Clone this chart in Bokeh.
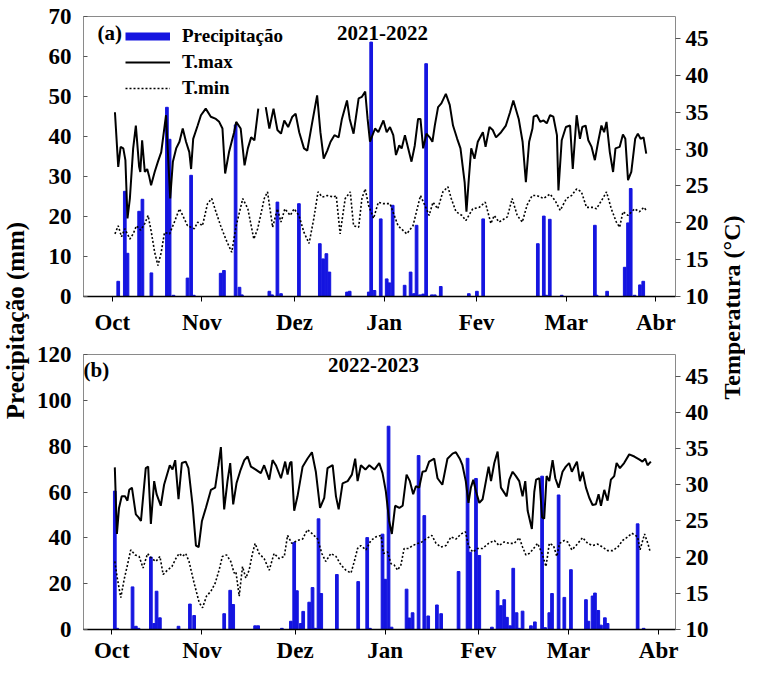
import math
from bokeh.plotting import figure
from bokeh.models import Range1d, LinearAxis, FixedTicker, Label, Legend, LegendItem
from bokeh.layouts import row, column
from bokeh.embed import file_html
from bokeh.resources import INLINE

FONT = "Liberation Serif"
BLUE = "#1515e0"
NAN = float("nan")

MONTHS = ["Oct", "Nov", "Dez", "Jan", "Fev", "Mar", "Abr"]
MONTH_TICKS = [0, 30, 61, 91, 122, 152, 182]

# ---------------- (a) 2021-2022 ----------------
A_TMAX_DAY = [0.9, 2.0, 2.8, 3.7, 4.4, 5.1, 5.9, 7.0, 7.9, 9.0, 9.4, 10.0, 10.9, 11.7, 12.3, 13.0, 14.2, 15.3, 16.4, 18.0,
              19.4, 20.3, 21.4, 22.5, 23.6, 24.7, 25.8, 26.4, 27.1, 28.6, 29.7, 31.3, 33.0, 34.7, 35.8, 36.9, 37.8, 39.1,
              40.8, 41.5, 43.0, 44.3, 45.4, 46.5, 47.6, 48.9, 50.0, 51.4, 52.6, 54.0, 55.3, 56.5, 57.6, 58.9, 60.3, 61.4,
              62.6, 64.2, 65.3, 66.9, 68.6, 69.7, 70.8, 72.0, 73.1, 74.4, 75.8, 76.9, 78.6, 79.5, 80.8, 82.5, 83.6, 84.7,
              85.5, 86.3, 88.0, 89.1, 90.8, 91.9, 93.0, 94.1, 95.0, 96.1, 96.9, 98.0, 99.1, 100.2, 101.3, 102.4, 103.2,
              104.1, 105.2, 106.3, 107.2, 108.0, 109.1, 110.2, 111.7, 113.0, 114.1, 115.5, 116.6, 118.0, 118.6, 119.4,
              120.2, 121.3, 122.4, 124.1, 125.0, 126.3, 127.4, 128.5, 130.2, 131.8, 133.2, 134.3, 136.1, 137.4, 138.5,
              139.6, 140.7, 141.1, 142.2, 143.3, 144.4, 145.5, 146.6, 147.7, 148.9, 149.4, 150.5, 151.9, 153.3, 154.2,
              155.5, 156.6, 157.4, 158.5, 159.4, 160.5, 161.6, 162.7, 163.8, 164.7, 165.5, 166.6, 167.7, 168.5, 169.9,
              171.0, 171.8, 172.7, 173.8, 175.1, 176.0, 176.9, 177.9, 178.8]
A_TMAX = [35.0, 27.6, 30.3, 30.1, 28.5, 20.6, 23.3, 30.1, 33.2, 27.6, 26.9, 31.2, 26.9, 27.3, 26.4, 25.1, 26.9, 28.3, 29.6, 34.6,
          23.3, 28.3, 30.1, 31.0, 32.8, 31.0, 29.6, 27.3, 31.4, 33.2, 34.6, 35.5, 34.4, 34.1, 33.7, 32.8, 26.7, 29.6,
          32.3, 33.7, 32.8, 27.8, 30.1, 31.6, 31.2, 35.5, NAN, 35.7, 32.8, 35.5, 32.6, 32.1, 33.9, 33.0, 34.4, 34.8,
          32.3, 30.1, 29.8, 33.5, 37.3, 32.3, 28.7, 29.8, 31.0, 31.9, 31.6, 34.1, 36.6, 34.1, 32.1, 36.9, 37.1, 37.8,
          34.1, 31.0, 32.8, 32.3, 33.9, 32.3, 33.0, 31.9, 29.2, 30.5, 30.1, 31.9, 30.1, 28.3, 30.5, 34.1, 34.1,
          30.1, 32.1, 31.6, 31.0, 33.2, 35.7, 36.2, 37.5, 36.0, 33.2, 31.4, 30.1, 25.5, 21.5, 26.0,
          30.1, 28.7, 31.0, 32.3, 30.3, 33.0, 32.6, 31.6, 32.3, 33.2, 35.0, 36.6, 34.1, 31.0, 25.5,
          31.0, 32.8, 34.4, 34.6, 33.7, 33.9, 33.5, 34.6, 34.4, 31.9, 24.4, 31.2, 33.0, 33.2, 27.3,
          34.6, 31.4, 33.0, 33.2, 31.2, 30.3, 28.5, 31.0, 33.2, 32.3, 33.7, 29.6, 26.9, 30.1, 30.3,
          32.0, 31.4, 25.8, 26.9, 31.4, 32.1, 31.4, 31.6, 29.4]

A_TMIN_DAY = [0.9, 2.0, 3.1, 4.2, 5.9, 7.0, 8.1, 9.5, 10.9, 12.0, 13.1, 14.2, 15.3, 16.4, 17.5, 19.2, 20.8, 22.5, 23.6, 25.2,
              27.5, 28.6, 30.2, 31.9, 33.3, 34.7, 36.3, 38.0, 40.0, 41.5, 43.7, 45.4, 47.4, 48.7, 50.9, 52.0, 53.7, 55.3,
              56.5, 57.8, 59.6, 60.9, 62.5, 64.2, 65.9, 67.5, 68.9, 70.3, 72.0, 74.2, 75.0, 76.3, 78.0, 79.7, 80.8, 82.5,
              83.6, 84.7, 85.8, 87.5, 89.1, 90.8, 93.0, 95.7, 98.6, 100.7, 103.2, 105.2, 106.1, 107.4, 109.0, 110.7,
              112.4, 113.5, 115.1, 117.1, 118.4, 120.7, 122.9, 124.9, 126.8, 127.9, 129.5, 132.3, 133.9, 135.6, 137.3,
              138.9, 140.6, 142.2, 144.4, 146.6, 148.3, 150.0, 152.1, 153.8, 155.5, 157.1, 158.8, 161.0, 162.1, 163.8,
              165.5, 167.1, 168.8, 169.9, 171.0, 172.7, 174.9, 176.5, 178.0, 178.8]
A_TMIN = [18.5, 19.6, 18.1, 19.2, 17.8, 18.5, 19.6, 19.0, 19.9, 21.0, 18.7, 16.0, 14.2, 16.0, 18.7, 18.5, 20.1, 21.9, 21.0, 19.6,
          19.2, 20.1, 19.6, 22.6, 23.3, 21.5, 19.6, 17.8, 16.0, 19.6, 23.3, 21.9, 17.8, 19.2, 23.3, 24.2, 19.4, 21.9,
          20.1, 21.9, 21.0, 21.9, 21.0, 18.7, 17.2, 20.6, 24.2, 23.5, 23.7, 23.5, 23.7, 18.5, 23.3, 24.2, 19.6, 19.4,
          23.3, 24.6, 22.4, 20.6, 22.8, 22.6, 22.6, 19.6, 18.5, 19.6, 23.7, 21.9, 21.0, 22.8, 21.9, 24.2,
          24.9, 23.3, 21.5, 21.0, 20.3, 21.9, 22.1, 22.8, 19.9, 21.0, 20.1, 20.8, 23.3, 21.0, 20.1,
          22.4, 23.7, 23.7, 23.3, 23.9, 23.0, 21.7, 23.3, 23.7, 24.6, 24.2, 22.1, 22.1, 21.9, 23.0,
          24.2, 21.9, 20.1, 19.4, 21.5, 21.0, 21.9, 21.5, 22.1, 21.7]

A_RAIN_DAY = [2.0, 4.2, 5.1, 9.0, 10.1, 13.1, 18.3, 19.2, 20.5, 25.2, 26.4, 27.3, 36.3, 37.4, 41.3, 42.6, 43.4, 52.6, 53.5,
              55.3, 56.5, 62.5, 69.5, 70.6, 71.7, 72.7, 78.6, 79.5, 85.9, 86.7, 87.8, 89.9, 91.9, 92.8, 93.9, 97.9,
              99.9, 101.0, 101.9, 103.0, 104.1, 105.1, 107.0, 108.0, 110.0, 119.4, 122.1, 124.2, 142.5, 144.5, 145.3,
              146.5, 150.5, 161.6, 162.2, 165.7, 171.6, 172.7, 173.6, 174.9, 176.7, 177.8]
A_RAIN = [3.8, 26.3, 10.8, 21.3, 24.3, 5.9, 47.3, 39.3, 0.3, 4.6, 30.3, 0.3, 5.8, 6.5, 42.9, 2.3, 0.4, 1.3, 0.4,
          23.6, 0.7, 23.2, 13.2, 9.4, 10.7, 6.1, 1.1, 1.3, 1.1, 63.6, 1.5, 19.4, 4.4, 3.4, 22.8, 2.8,
          6.1, 0.7, 17.8, 0.4, 0.6, 58.2, 0.4, 0.4, 2.5, 0.7, 1.3, 19.4, 13.2, 20.1, 0.3,
          19.3, 0.3, 17.8, 0.3, 1.3, 7.3, 18.4, 27.0, 0.3, 2.9, 3.8]

# ---------------- (b) 2022-2023 ----------------
B_TMAX_DAY = [1.0, 1.7, 2.4, 3.3, 4.4, 5.2, 5.8, 6.7, 8.0, 8.9, 9.7, 11.3, 12.1, 13.0, 14.1, 14.9, 16.3, 17.4, 19.3, 20.2,
              21.1, 22.2, 23.3, 24.6, 25.5, 26.9, 28.0, 28.9, 30.0, 31.3, 33.0, 34.4, 35.5, 36.3, 37.4, 38.5, 39.4,
              40.4, 41.5, 42.9, 44.1, 45.2, 46.3, 47.9, 49.6, 50.7, 52.4, 53.5, 54.6, 56.3, 57.7, 58.5, 59.3, 59.8,
              60.7, 61.8, 63.5, 65.1, 66.6, 67.9, 69.3, 70.7, 71.8, 73.5, 74.6, 75.5, 76.8, 78.5, 79.9, 81.0, 81.8,
              82.9, 84.4, 85.7, 87.4, 89.0, 90.1, 91.2, 92.3, 93.2, 94.3, 95.7, 96.8, 98.1, 99.2, 100.3, 101.2, 102.3,
              103.4, 104.5, 105.6, 107.3, 108.4, 110.0, 111.7, 113.4, 114.5, 115.8, 116.7, 117.8, 118.7, 119.5,
              120.3, 121.2, 122.3, 123.4, 125.4, 126.2, 127.3, 128.4, 129.5, 131.4, 132.3, 133.4, 134.5, 135.6,
              136.7, 137.6, 138.4, 139.8, 140.6, 141.2, 142.3, 143.2, 143.9, 144.7, 145.6, 146.7, 147.6, 148.7,
              150.0, 151.1, 152.2, 153.1, 154.8, 155.8, 156.7, 157.8, 158.9, 160.0, 161.1, 162.0, 162.8, 163.9,
              165.0, 166.1, 167.2, 168.0, 169.1, 170.5, 172.2, 173.9, 175.5, 176.6, 177.5, 178.3, 179.4]
B_TMAX = [32.4, 23.2, 26.8, 28.4, 28.4, 27.8, 29.3, 29.6, 25.9, 25.5, 25.0, 32.3, 32.5, 24.6, 30.5, 28.7, 27.1, 30.0, 32.7, 32.1,
          33.4, 28.0, 33.0, 33.2, 32.3, 27.1, 21.6, 21.4, 25.0, 26.8, 29.3, 29.6, 32.7, 35.2, 26.6, 30.5, 33.0,
          27.3, 30.2, 32.1, 33.4, 33.9, 32.5, 32.1, 31.6, 32.7, 30.7, 33.4, 32.7, 30.9, 33.2, 31.4, 33.0, 33.2,
          26.4, 28.4, 32.5, 33.6, 34.5, 31.8, 26.8, 28.2, 32.3, 32.7, 28.4, 26.6, 30.2, 30.5, 31.4, 33.6, 30.5,
          32.7, 32.1, 32.7, 32.1, 33.0, 31.6, 29.1, 25.0, 23.2, 27.1, 26.8, 27.1, 31.4, 30.5, 28.7, 29.8, 29.6,
          31.8, 31.9, 33.2, 33.6, 30.9, 30.0, 33.6, 34.3, 34.5, 33.6, 32.7, 30.5, 27.5, 29.6,
          30.7, 29.1, 27.5, 28.0, 32.5, 30.5, 33.0, 34.6, 29.6, 28.4, 30.7, 31.8, 31.2, 30.5,
          28.4, 30.5, 26.4, 23.9, 29.0, 30.7, 30.9, 25.5, 25.3, 31.2, 30.5, 33.4, 30.9, 29.6,
          31.8, 32.5, 33.0, 31.8, 33.2, 30.5, 31.8, 29.6, 28.2, 27.2, 27.3, 28.7, 27.1, 29.3,
          27.8, 30.7, 31.2, 33.0, 32.3, 33.0, 34.2, 33.9, 33.5, 33.2, 33.6, 32.7, 33.2]

B_TMIN_DAY = [1.0, 1.9, 3.0, 4.1, 5.2, 6.3, 7.8, 9.1, 10.4, 11.9, 13.3, 14.7, 16.0, 17.1, 18.5, 20.0, 21.3, 22.4, 23.5, 24.6,
              25.7, 27.4, 29.1, 30.2, 31.5, 33.0, 34.4, 35.7, 36.8, 38.2, 39.6, 40.7, 41.3, 42.4, 43.5, 44.6, 45.7,
              46.8, 47.7, 49.0, 50.7, 52.4, 54.0, 55.7, 57.4, 58.5, 59.9, 61.8, 63.5, 65.1, 66.8, 68.5, 69.9, 71.2,
              72.9, 74.6, 76.3, 77.9, 79.6, 80.7, 81.8, 82.9, 84.6, 86.2, 87.9, 89.6, 90.4, 91.8, 92.9, 94.0, 95.1,
              96.2, 97.3, 98.8, 100.1, 101.8, 103.2, 104.5, 106.5, 107.9, 109.5, 111.2, 112.9, 114.6, 116.2, 117.7,
              118.7, 120.1, 121.7, 123.4, 125.4, 127.3, 128.9, 130.6, 132.3, 133.9, 135.6, 136.7, 137.8, 138.9,
              140.0, 141.7, 143.2, 144.5, 145.6, 147.0, 148.1, 149.0, 150.6, 151.7, 153.1, 154.5, 156.7, 158.4,
              160.0, 161.7, 163.3, 165.0, 166.7, 168.4, 170.0, 171.7, 173.1, 175.0, 175.8, 177.3, 178.4, 179.2]
B_TMIN = [19.4, 16.9, 14.4, 16.9, 18.9, 21.0, 20.3, 20.1, 18.5, 20.5, 19.8, 19.4, 20.1, 17.6, 18.2, 18.7, 19.8, 20.5, 20.1, 20.5,
          19.4, 16.4, 13.7, 13.0, 14.6, 15.3, 16.4, 18.2, 20.1, 20.3, 19.4, 17.8, 18.0, 14.6, 18.7, 17.1, 18.2,
          20.5, 21.9, 20.5, 19.8, 18.2, 20.5, 19.8, 20.1, 23.0, 21.9, 22.3, 22.5, 23.8, 23.2, 22.5, 20.5, 19.4,
          20.5, 20.1, 18.9, 18.2, 17.8, 19.4, 21.2, 21.6, 21.0, 22.3, 22.8, 23.0, 20.5, 20.7, 19.1, 18.9, 18.2,
          18.9, 21.2, 21.2, 21.6, 21.9, 22.1, 22.5, 23.0, 21.9, 21.4, 21.6, 22.8, 22.5, 23.2, 23.5,
          21.6, 20.7, 21.2, 21.2, 21.9, 22.3, 21.6, 22.1, 21.9, 21.9, 22.7, 21.4, 20.3, 20.5,
          21.0, 21.9, 20.5, 18.7, 21.9, 21.6, 20.1, 21.9, 22.3, 22.1, 21.0, 21.6, 22.7, 21.9,
          21.6, 21.8, 21.4, 20.9, 20.9, 21.4, 22.3, 22.8, 23.3, 22.8, 21.0, 23.2, 21.9, 20.7]

B_RAIN_DAY = [1.0, 1.8, 6.9, 8.0, 8.9, 13.0, 14.1, 14.9, 16.0, 22.2, 26.0, 27.4, 37.4, 39.4, 40.4, 47.7, 48.7, 56.6, 59.6,
              60.7, 61.6, 62.9, 63.7, 65.7, 66.8, 67.7, 68.8, 69.7, 74.9, 82.0, 85.0, 85.9, 90.1, 91.0, 92.1, 93.1,
              98.1, 99.0, 100.1, 102.1, 104.0, 105.3, 108.2, 109.6, 115.4, 118.4, 119.3, 121.2, 122.3, 126.5, 128.4,
              129.5, 130.6, 131.5, 132.6, 133.6, 134.7, 135.6, 136.7, 139.5, 140.8, 143.2, 144.2, 145.6, 146.5, 148.7,
              150.6, 152.8, 157.8, 158.6, 160.0, 160.8, 161.9, 162.8, 164.1, 165.0, 175.0, 177.0]
B_RAIN = [60.4, 0.5, 18.6, 1.4, 0.5, 31.6, 2.6, 16.7, 5.1, 1.4, 11.1, 6.1, 6.9, 17.1, 10.9, 1.6, 1.6, 0.5, 3.6,
          38.0, 16.9, 2.6, 7.9, 11.9, 18.3, 0.5, 48.3, 15.7, 24.0, 20.9, 40.1, 0.5, 41.6, 21.9, 88.7, 1.0,
          17.6, 5.0, 7.3, 75.9, 49.7, 5.9, 10.7, 6.9, 25.3, 74.7, 33.7, 65.9, 32.3, 1.0, 17.0,
          10.4, 13.0, 5.3, 1.6, 26.7, 7.3, 0.5, 8.0, 1.6, 3.3, 66.9, 0.8, 7.3, 15.7, 58.7,
          14.0, 26.1, 13.0, 3.6, 14.6, 15.9, 8.3, 1.9, 5.1, 2.6, 46.1, 0.5]

A_LEFT_TICKS = [0, 10, 20, 30, 40, 50, 60, 70]
B_LEFT_TICKS = [0, 20, 40, 60, 80, 100, 120]
TEMP_TICKS = [10, 15, 20, 25, 30, 35, 40, 45]


def style_axis(ax, size="23px"):
    ax.major_label_text_font = FONT
    ax.major_label_text_font_style = "bold"
    ax.major_label_text_font_size = size
    ax.major_label_text_color = "black"
    ax.minor_tick_line_color = None
    ax.axis_label = None


def make_panel(rain_day, rain, tmax_day, tmax, tmin_day, tmin, y_max, y_ticks,
               x0, x1, width, height, bl, br, bt, bb, standoff, tag, title, tag_xy, title_xy, legend=False):
    p = figure(width=width, height=height, x_range=Range1d(x0, x1), y_range=Range1d(0, y_max),
               output_backend="svg", toolbar_location=None,
               min_border_left=bl, min_border_right=br, min_border_top=bt, min_border_bottom=bb)
    p.extra_y_ranges = {"temp": Range1d(10, 48)}
    p.xgrid.visible = False
    p.ygrid.visible = False
    p.outline_line_color = "#8a8a8a"
    p.outline_line_width = 1
    p.background_fill_color = "white"
    p.border_fill_color = "white"

    xa = p.xaxis[0]
    xa.ticker = FixedTicker(ticks=MONTH_TICKS)
    xa.major_label_overrides = {t: m for t, m in zip(MONTH_TICKS, MONTHS)}
    style_axis(xa)
    xa.axis_line_color = "black"
    xa.axis_line_width = 1.5
    xa.major_tick_line_color = "black"
    xa.major_tick_in = 0
    xa.major_tick_out = 5
    xa.major_label_standoff = standoff

    ya = p.yaxis[0]
    ya.ticker = FixedTicker(ticks=y_ticks)
    style_axis(ya)
    ya.axis_line_color = None
    ya.major_tick_line_color = "#555555"
    ya.major_tick_in = 4
    ya.major_tick_out = 0
    ya.major_label_standoff = 12

    ra = LinearAxis(y_range_name="temp", ticker=FixedTicker(ticks=TEMP_TICKS))
    style_axis(ra)
    ra.axis_line_color = None
    ra.major_tick_line_color = "#555555"
    ra.major_tick_in = 0
    ra.major_tick_out = 5
    ra.major_label_standoff = 5
    p.add_layout(ra, "right")

    p.vbar(x=rain_day, top=rain, bottom=0, width=0.9, fill_color=BLUE, line_color=BLUE)
    r_max = p.line(tmax_day, tmax, y_range_name="temp", line_color="black", line_width=2)
    r_min = p.line(tmin_day, tmin, y_range_name="temp", line_color="black", line_width=1.6, line_dash="2 2")

    p.add_layout(Label(x=tag_xy[0], y=tag_xy[1], x_units="screen", y_units="screen", text=tag,
                       text_font=FONT, text_font_style="bold", text_font_size="21px", text_color="black",
                       text_align="left", text_baseline="top"))
    p.add_layout(Label(x=title_xy[0], y=title_xy[1], x_units="screen", y_units="screen", text=title,
                       text_font=FONT, text_font_style="bold", text_font_size="21px", text_color="black",
                       text_align="center", text_baseline="top"))

    if legend:
        # legend-only proxy for the bar series (drawn as a thick blue swatch)
        r_rain = p.line([NAN], [NAN], line_color=BLUE, line_width=8)
        lg = Legend(items=[LegendItem(label="Precipitação", renderers=[r_rain]),
                           LegendItem(label="T.max", renderers=[r_max]),
                           LegendItem(label="T.min", renderers=[r_min])],
                    location=(42, 197))
        lg.label_text_font = FONT
        lg.label_text_font_style = "bold"
        lg.label_text_font_size = "19px"
        lg.label_text_color = "black"
        lg.glyph_width = 45
        lg.glyph_height = 20
        lg.label_height = 20
        lg.spacing = 4
        lg.padding = 0
        lg.margin = 0
        lg.label_standoff = 12
        lg.border_line_color = None
        lg.background_fill_alpha = 0
        p.add_layout(lg)
    return p


def label_fig(text, w, h, x, y, size):
    f = figure(width=w, height=h, x_range=Range1d(0, w), y_range=Range1d(0, h),
               x_axis_location=None, y_axis_location=None, toolbar_location=None,
               output_backend="svg", min_border=0)
    f.outline_line_color = None
    f.grid.visible = False
    f.add_layout(Label(x=x, y=y, text=text, angle=math.pi / 2, text_align="center", text_baseline="middle",
                       text_font=FONT, text_font_style="bold", text_font_size=size, text_color="black"))
    return f


pa = make_panel(A_RAIN_DAY, A_RAIN, A_TMAX_DAY, A_TMAX, A_TMIN_DAY, A_TMIN, 70, A_LEFT_TICKS,
                -9.63, 188.6, 689, 337, 48, 44, 16, 41, 8, "(a)", "2021-2022", (14, 276), (299, 271), legend=True)
pb = make_panel(B_RAIN_DAY, B_RAIN, B_TMAX_DAY, B_TMAX, B_TMIN_DAY, B_TMIN, 120, B_LEFT_TICKS,
                -9.42, 187.6, 689, 328, 53, 44, 17, 33, 3, "(b)", "2022-2023", (0, 272), (290, 272))

left = label_fig("Precipitação (mm)", 30, 665, 15, 345, "25px")
right = label_fig("Temperatura (°C)", 26, 665, 12, 358, "24px")

layout = row(left, column(pa, pb), right)
open("out.html", "w").write(file_html(layout, INLINE))
